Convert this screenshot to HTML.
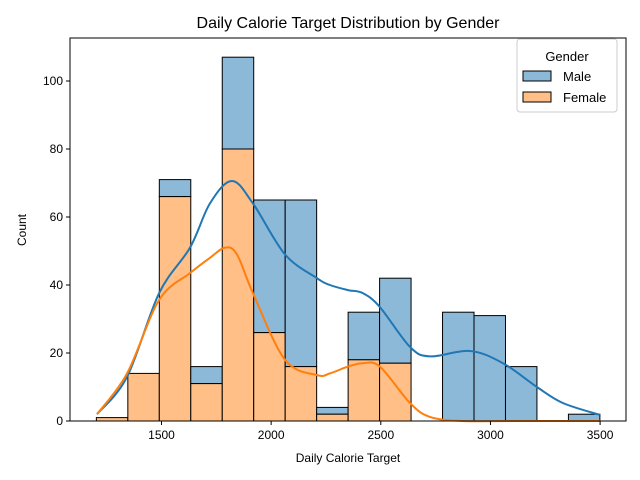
<!DOCTYPE html>
<html><head><meta charset="utf-8">
<style>body{margin:0;background:#fff}svg{display:block;font-family:"Liberation Sans","DejaVu Sans",sans-serif}</style>
</head><body>
<svg id="chart" width="640" height="480">
<text x="348" y="28" font-size="16" text-anchor="middle">Daily Calorie Target Distribution by Gender</text>
<g id="plot"></g>
<text x="348" y="462" font-size="12" text-anchor="middle">Daily Calorie Target</text>
<text x="26" y="230" font-size="12" text-anchor="middle" transform="rotate(-90 26 230)">Count</text>
<g>
<rect x="517" y="39" width="100" height="73" rx="3" fill="#fff" fill-opacity="0.8" stroke="#ccc"/>
<text x="567" y="61" font-size="13" text-anchor="middle">Gender</text>
<g><rect x="523" y="71" width="28" height="10" fill="#8db9d9" stroke="#000"/><text x="563" y="81" font-size="13">Male</text></g>
<g><rect x="523" y="92" width="28" height="10" fill="#ffbf86" stroke="#000"/><text x="563" y="102" font-size="13">Female</text></g>
</g>
</svg>
<script>
const binStart = 1203, binWidth = 143.5;
const femaleCounts = [1,14,66,11,80,26,16,2,18,17,0,0,0,0,0,0];
const maleCounts = [0,0,5,5,27,39,49,2,14,25,0,32,31,16,0,2];
const xTicks = [1500,2000,2500,3000,3500];
const yTicks = [0,20,40,60,80,100];
const kdeX = [1206,1343,1489,1630,1721,1821,1917,2063,2209,2268,2350,2418,2496,2633,2724,2907,3057,3212,3330,3499];
const kdeTotal = [2,13,37.6,51,64,70.6,64,49,42,40,38.5,37.6,33.5,21.8,19,20.6,17,10,5.3,1.8];
const kdeFemX = [1206,1343,1489,1630,1721,1790,1844,1917,2063,2209,2268,2350,2418,2496,2633,2724,2875,3100,3499];
const kdeFem = [2,14,35.6,43.5,48,51,49,37.6,18,13.5,14,16,17,16,5.3,1.2,0,0,0];
const X0=70,X1=626,Y0=421,Y1=38;
const xs=v=>161.5+(v-1500)*0.2193;
const ys=v=>421-v*3.4;
const NS='http://www.w3.org/2000/svg';
const g=document.getElementById('plot');
function mk(t,a){const e=document.createElementNS(NS,t);for(const k in a)e.setAttribute(k,a[k]);g.appendChild(e);return e;}
femaleCounts.forEach((f,i)=>{
  const x0=xs(binStart+i*binWidth),x1=xs(binStart+(i+1)*binWidth);
  const m=maleCounts[i];
  if(m>0){const r=mk('rect',{x:x0,y:ys(f+m),width:x1-x0,height:ys(f)-ys(f+m),fill:'#8db9d9',stroke:'#000','stroke-width':1});
    
    }
  if(f>0){const r=mk('rect',{x:x0,y:ys(f),width:x1-x0,height:ys(0)-ys(f),fill:'#ffbf86',stroke:'#000','stroke-width':1});
    
    }
});
function smooth(xa,ya){const p=xa.map((x,i)=>[xs(x),ys(ya[i])]);let d='M'+p[0];
  for(let i=0;i<p.length-1;i++){const a=p[i-1]||p[i],b=p[i],c=p[i+1],e=p[i+2]||c;
    d+=' C'+(b[0]+(c[0]-a[0])/6)+','+(b[1]+(c[1]-a[1])/6)+' '+(c[0]-(e[0]-b[0])/6)+','+(c[1]-(e[1]-b[1])/6)+' '+c;}
  return d;}
const k1=mk('path',{d:smooth(kdeX,kdeTotal),fill:'none',stroke:'#1f77b4','stroke-width':2});


const k2=mk('path',{d:smooth(kdeFemX,kdeFem),fill:'none',stroke:'#ff7f0e','stroke-width':2});


mk('rect',{x:X0,y:Y1,width:X1-X0,height:Y0-Y1,fill:'none',stroke:'#000','stroke-width':1});
xTicks.forEach(t=>{const x=xs(t);mk('line',{x1:x,x2:x,y1:Y0,y2:Y0+4,stroke:'#000'});
  const tx=mk('text',{x:x,y:Y0+18,'font-size':12,'text-anchor':'middle'});tx.textContent=t;
  
  });
yTicks.forEach(t=>{const y=ys(t);mk('line',{x1:X0-4,x2:X0,y1:y,y2:y,stroke:'#000'});
  const tx=mk('text',{x:X0-7,y:y+4,'font-size':12,'text-anchor':'end'});tx.textContent=t;
  
  });
</script>
</body></html>
